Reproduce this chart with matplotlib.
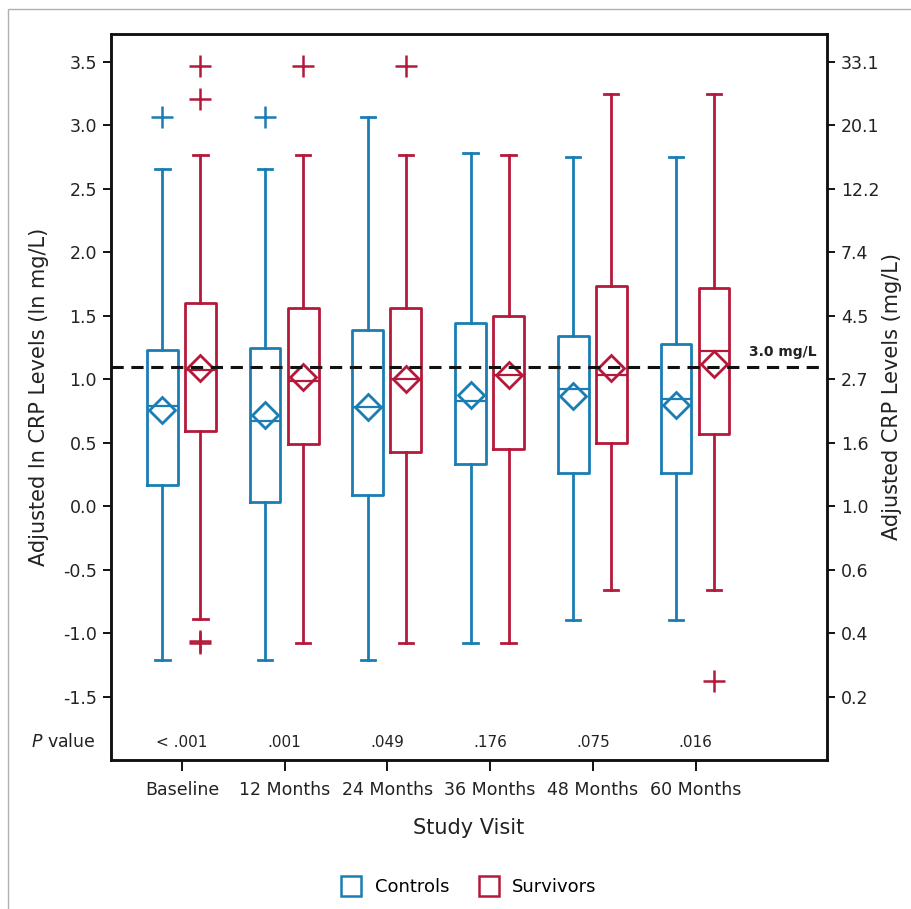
import numpy as np
import matplotlib
matplotlib.use('Agg')
from matplotlib import pyplot as plt
from matplotlib.lines import Line2D
from matplotlib.patches import Rectangle
import matplotlib.transforms as mtransforms

# Data (adjusted ln CRP)
visits = ['Baseline', '12 Months', '24 Months', '36 Months', '48 Months', '60 Months']
p_values = ['< .001', '.001', '.049', '.176', '.075', '.016']

ctrl_whislo = [-1.21, -1.21, -1.21, -1.08, -0.90, -0.90]
ctrl_q1 = [0.17, 0.035, 0.085, 0.33, 0.26, 0.26]
ctrl_med = [0.79, 0.67, 0.78, 0.825, 0.92, 0.845]
ctrl_mean = [0.76, 0.715, 0.78, 0.875, 0.87, 0.80]
ctrl_q3 = [1.23, 1.25, 1.385, 1.44, 1.34, 1.28]
ctrl_whishi = [2.66, 2.66, 3.07, 2.78, 2.75, 2.75]
ctrl_fliers = [[3.07], [3.07], [], [], [], []]

surv_whislo = [-0.89, -1.08, -1.08, -1.08, -0.66, -0.66]
surv_q1 = [0.59, 0.49, 0.43, 0.45, 0.50, 0.57]
surv_med = [1.075, 0.99, 1.00, 1.035, 1.03, 1.22]
surv_mean = [1.09, 1.02, 1.00, 1.035, 1.09, 1.12]
surv_q3 = [1.60, 1.565, 1.56, 1.495, 1.735, 1.72]
surv_whishi = [2.77, 2.77, 2.77, 2.77, 3.25, 3.25]
surv_fliers = [[3.47, 3.21, -1.06, -1.08], [3.47], [3.47], [], [], [-1.38]]

left_ticks = [-1.5, -1.0, -0.5, 0.0, 0.5, 1.0, 1.5, 2.0, 2.5, 3.0, 3.5]
right_labels = ['0.2', '0.4', '0.6', '1.0', '1.6', '2.7', '4.5', '7.4', '12.2', '20.1', '33.1']
threshold = np.log(3.0)

blue = '#1a7db3'
red = '#b5193a'
txt = '#222222'

fig = plt.figure(figsize=(9.11, 9.09), dpi=100)
fig.patches.append(Rectangle((8 / 911, -0.1), 1.2, 1 - 9 / 909 + 0.1, transform=fig.transFigure,
                             fill=False, edgecolor='#b0b0b0', linewidth=1.0))
ax = fig.add_axes([111 / 911, 1 - 760 / 909, 716 / 911, 726 / 909])

x = np.arange(len(visits))


def draw(offset, color, whislo, q1, med, mean, q3, whishi, fliers):
    stats = []
    for i in range(len(visits)):
        stats.append(dict(whislo=whislo[i], q1=q1[i], med=med[i], mean=mean[i],
                          q3=q3[i], whishi=whishi[i], fliers=fliers[i]))
    lp = dict(color=color, linewidth=2)
    ax.bxp(stats, positions=x + offset, widths=0.30, capwidths=0.14, showmeans=True,
           boxprops=lp, whiskerprops=lp, capprops=lp, medianprops=dict(color=color, linewidth=1.6),
           meanprops=dict(marker='D', markersize=13, markerfacecolor='none',
                          markeredgecolor=color, markeredgewidth=2),
           flierprops=dict(marker='+', markersize=16, markeredgecolor=color, markeredgewidth=1.8),
           manage_ticks=False)


draw(-0.19, blue, ctrl_whislo, ctrl_q1, ctrl_med, ctrl_mean, ctrl_q3, ctrl_whishi, ctrl_fliers)
draw(0.18, red, surv_whislo, surv_q1, surv_med, surv_mean, surv_q3, surv_whishi, surv_fliers)

ax.axhline(threshold, color='#111111', linestyle=(0, (4, 2.5)), linewidth=2.2, zorder=5)
ax.text(0.985, threshold + 0.06, '3.0 mg/L', transform=mtransforms.blended_transform_factory(ax.transAxes, ax.transData),
        ha='right', va='bottom', fontsize=10, fontweight='bold', color=txt)

ax.set_xlim(-0.69, 6.28)
ax.set_ylim(-2.0, 3.72)
ax.set_xticks(x)
ax.set_xticklabels(visits, fontsize=12.5, color=txt)
ax.set_yticks(left_ticks)
ax.set_yticklabels(['%.1f' % v for v in left_ticks], fontsize=12.5, color=txt)
ax.tick_params(axis='x', length=8, width=1.3, pad=7)
ax.tick_params(axis='y', length=6, width=1.3, pad=4)
for s in ax.spines.values():
    s.set_linewidth(1.8)
    s.set_color('#111111')

ax2 = ax.twinx()
ax2.set_ylim(ax.get_ylim())
ax2.set_yticks(left_ticks)
ax2.set_yticklabels(right_labels, fontsize=12.5, color=txt)
ax2.tick_params(axis='y', length=6, width=1.3, pad=4)
for s in ax2.spines.values():
    s.set_linewidth(1.8)
    s.set_color('#111111')

ax.set_ylabel('Adjusted ln CRP Levels (ln mg/L)', fontsize=15, color=txt, labelpad=10)
ax2.set_ylabel('Adjusted CRP Levels (mg/L)', fontsize=15, color=txt, labelpad=2)
ax.set_xlabel('Study Visit', fontsize=15, color=txt, labelpad=14)

# P value row
for xi, p in zip(x, p_values):
    ax.text(xi, -1.86, p, ha='center', va='center', fontsize=11, color=txt)
ax.text(-0.022, -1.86, r'$\it{P}$ value', transform=mtransforms.blended_transform_factory(ax.transAxes, ax.transData),
        ha='right', va='center', fontsize=12.5, color=txt)

handles = [Line2D([], [], linestyle='none', marker='s', markersize=14, markerfacecolor='none',
                  markeredgecolor=blue, markeredgewidth=1.8),
           Line2D([], [], linestyle='none', marker='s', markersize=14, markerfacecolor='none',
                  markeredgecolor=red, markeredgewidth=1.8)]
fig.legend(handles, ['Controls', 'Survivors'], loc='center', bbox_to_anchor=(465 / 911, 1 - 887 / 909),
           ncol=2, frameon=False, fontsize=13, handletextpad=0.3, columnspacing=1.2)

plt.savefig('out.png')
